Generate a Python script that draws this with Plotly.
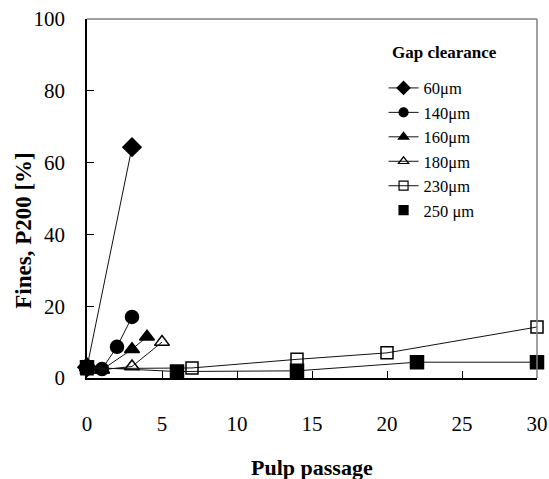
import plotly.graph_objects as go

# Fines content (P200, %) versus number of pulp passages, per refiner gap
x_60 = [0, 3]
y_60 = [3.0, 64.3]
x_140 = [0, 1, 2, 3]
y_140 = [3.0, 2.5, 8.7, 17.0]
x_160 = [0, 1, 3, 4]
y_160 = [3.0, 2.3, 8.0, 11.5]
x_180 = [0, 1, 3, 5]
y_180 = [3.0, 2.3, 3.2, 10.0]
x_230 = [0, 7, 14, 20, 30]
y_230 = [2.6, 2.8, 5.2, 7.0, 14.2]
x_250 = [0, 6, 14, 22, 30]
y_250 = [3.0, 1.8, 2.0, 4.4, 4.4]

x_ticks = [0, 5, 10, 15, 20, 25, 30]
y_ticks = [0, 20, 40, 60, 80, 100]

FONT = "Liberation Serif"
LINE = dict(color="#111111", width=1)

# name, x, y, symbol, marker size on plot, show line in legend
series = [
    ("60μm", x_60, y_60, "diamond", 14, True),
    ("140μm", x_140, y_140, "circle", 13, True),
    ("160μm", x_160, y_160, "triangle-up", 13, True),
    ("180μm", x_180, y_180, "triangle-up-open", 13, True),
    ("230μm", x_230, y_230, "square-open", 12, True),
    ("250 μm", x_250, y_250, "square", 13, False),
]

fig = go.Figure()

# data traces (lines + markers), kept out of the legend
for name, xs, ys, sym, size, _ in series:
    fig.add_trace(go.Scatter(
        x=xs, y=ys, name=name, mode="lines+markers", line=LINE,
        marker=dict(symbol=sym, size=size, color="black",
                    line=dict(color="black", width=1.5)),
        cliponaxis=False, showlegend=False,
    ))

# legend keys with smaller symbols; 250 μm shows its marker only
for name, xs, ys, sym, size, with_line in series:
    fig.add_trace(go.Scatter(
        x=[None], y=[None], name=name,
        mode="lines+markers" if with_line else "markers", line=LINE,
        marker=dict(symbol=sym, size=9 if "diamond" not in sym else 10,
                    color="black", line=dict(color="black", width=1.2)),
        showlegend=True,
    ))

fig.update_layout(
    template="none",
    width=549, height=479,
    margin=dict(l=87, r=12, t=19, b=101),
    paper_bgcolor="white", plot_bgcolor="white",
    font=dict(family=FONT, size=20, color="black"),
    showlegend=True,
    legend=dict(
        x=0.659, y=0.856, xanchor="left", yanchor="top",
        bgcolor="rgba(0,0,0,0)", borderwidth=0,
        font=dict(family=FONT, size=16.5, color="black"),
        tracegroupgap=0,
    ),
    xaxis=dict(
        range=[0, 30], tickvals=x_ticks, ticks="inside", ticklen=7,
        tickcolor="black", showline=True, linecolor="black", linewidth=1.5,
        showgrid=False, zeroline=False, ticklabelstandoff=26, automargin=False,
        tickfont=dict(family=FONT, size=21, color="black"),
    ),
    yaxis=dict(
        range=[0, 100], tickvals=y_ticks, ticks="inside", ticklen=7,
        tickcolor="black", showline=True, linecolor="black", linewidth=1.5,
        showgrid=False, zeroline=False, ticklabelstandoff=16, automargin=False,
        tickfont=dict(family=FONT, size=21, color="black"),
    ),
    shapes=[
        dict(type="line", xref="paper", yref="paper", x0=0, x1=1, y0=1, y1=1,
             line=dict(color="#808080", width=1.5)),
        dict(type="line", xref="paper", yref="paper", x0=1, x1=1, y0=0, y1=1,
             line=dict(color="#808080", width=1.5)),
    ],
    annotations=[
        dict(text="<b>Gap clearance</b>", xref="paper", yref="paper",
             x=0.673, y=0.908, xanchor="left", yanchor="middle", showarrow=False,
             font=dict(family=FONT, size=17, color="black")),
        dict(text="<b>Pulp passage</b>", xref="paper", yref="paper",
             x=0.5, y=-0.25, xanchor="center", yanchor="middle", showarrow=False,
             font=dict(family=FONT, size=22, color="black")),
        dict(text="<b>Fines, P200 [%]</b>", xref="paper", yref="paper",
             x=-0.143, y=0.412, xanchor="center", yanchor="middle", showarrow=False,
             textangle=-90, font=dict(family=FONT, size=23, color="black")),
    ],
)

fig.write_html("out.html")
